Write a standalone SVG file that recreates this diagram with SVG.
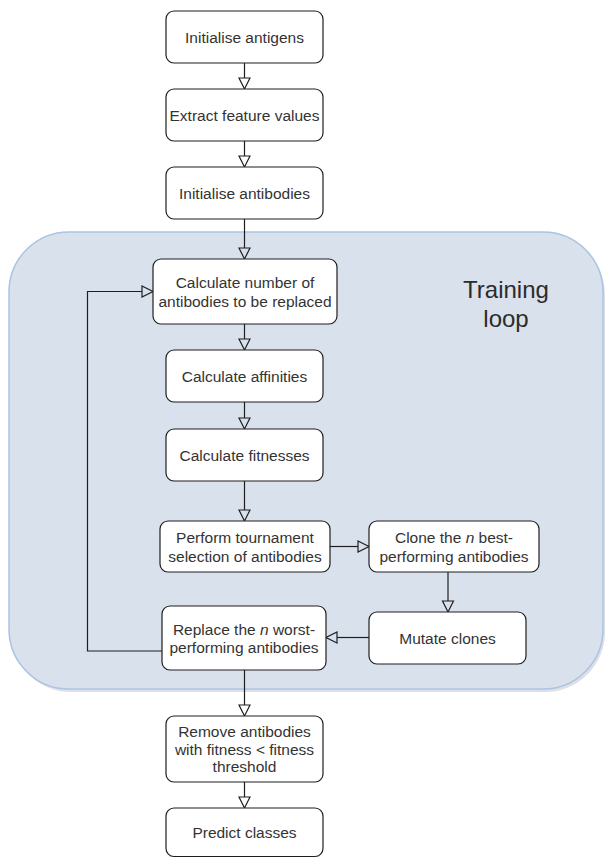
<svg xmlns="http://www.w3.org/2000/svg" width="605" height="858" viewBox="0 0 605 858">
  <style>
    .box { fill: #ffffff; stroke: #1e1e1e; stroke-width: 1.2; }
    .lbl { font-family: "Liberation Sans", Arial, sans-serif; font-size: 15.5px; fill: #333333; text-anchor: middle; }
    .title { font-family: "Liberation Sans", Arial, sans-serif; font-size: 24px; fill: #2b2b2b; text-anchor: middle; }
    .edge { fill: none; stroke: #1e1e1e; stroke-width: 1.2; marker-end: url(#openBlock); }
  </style>
  <defs>
    <marker id="openBlock" markerUnits="userSpaceOnUse" markerWidth="14" markerHeight="14" viewBox="-1 -1 14 14" refX="0" refY="5.5" orient="auto">
      <path d="M0,0 L11,5.5 L0,11 Z" fill="none" stroke="#1e1e1e" stroke-width="1.2"/>
    </marker>
  </defs>

  <!-- training loop container -->
  <g id="training-loop">
    <rect x="11" y="235" width="594" height="457" rx="60" fill="#c8ccd2" opacity="0.6"/>
    <rect x="9" y="232" width="594" height="457" rx="60" fill="#d9e1ec" stroke="#a9c3e5" stroke-width="1.5"/>
    <text class="title" x="506" y="298">Training</text>
    <text class="title" x="506" y="327">loop</text>
  </g>

  <!-- connectors -->
  <g id="connectors">
    <path class="edge" d="M244.5,63 V78"/>
    <path class="edge" d="M244.5,141 V156"/>
    <path class="edge" d="M244.5,219 V248"/>
    <path class="edge" d="M244.5,324 V339"/>
    <path class="edge" d="M244.5,402 V418"/>
    <path class="edge" d="M244.5,481 V510"/>
    <path class="edge" d="M330,546.5 H358"/>
    <path class="edge" d="M448,572 V601"/>
    <path class="edge" d="M369,637.5 H337"/>
    <path class="edge" d="M162,651 H87.5 V291.5 H142"/>
    <path class="edge" d="M244.5,670 V705"/>
    <path class="edge" d="M244.5,782 V797"/>
  </g>

  <g id="n1">
    <rect class="box" x="166" y="11" width="157" height="52" rx="8"/>
    <text class="lbl" x="244.5" y="42.5">Initialise antigens</text>
  </g>
  <g id="n2">
    <rect class="box" x="166" y="89" width="157" height="52" rx="8"/>
    <text class="lbl" x="244.5" y="120.5">Extract feature values</text>
  </g>
  <g id="n3">
    <rect class="box" x="166" y="167" width="157" height="52" rx="8"/>
    <text class="lbl" x="244.5" y="198.5">Initialise antibodies</text>
  </g>
  <g id="n4">
    <rect class="box" x="153" y="259" width="184" height="65" rx="8"/>
    <text class="lbl" x="245" y="288">Calculate number of</text>
    <text class="lbl" x="245" y="306.5">antibodies to be replaced</text>
  </g>
  <g id="n5">
    <rect class="box" x="166" y="350" width="157" height="52" rx="8"/>
    <text class="lbl" x="244.5" y="381.5">Calculate affinities</text>
  </g>
  <g id="n6">
    <rect class="box" x="166" y="429" width="157" height="52" rx="8"/>
    <text class="lbl" x="244.5" y="460.5">Calculate fitnesses</text>
  </g>
  <g id="n7">
    <rect class="box" x="160" y="521" width="170" height="51" rx="8"/>
    <text class="lbl" x="245" y="543.3">Perform tournament</text>
    <text class="lbl" x="245" y="561.7">selection of antibodies</text>
  </g>
  <g id="n8">
    <rect class="box" x="369" y="521" width="170" height="51" rx="8"/>
    <text class="lbl" x="454" y="543.3">Clone the <tspan font-style="italic">n</tspan> best-</text>
    <text class="lbl" x="454" y="561.7">performing antibodies</text>
  </g>
  <g id="n9">
    <rect class="box" x="369" y="612" width="157" height="52" rx="8"/>
    <text class="lbl" x="447.5" y="643.5">Mutate clones</text>
  </g>
  <g id="n10">
    <rect class="box" x="162" y="606" width="164" height="64" rx="8"/>
    <text class="lbl" x="244" y="634.5">Replace the <tspan font-style="italic">n</tspan> worst-</text>
    <text class="lbl" x="244" y="653">performing antibodies</text>
  </g>
  <g id="n11">
    <rect class="box" x="166" y="716" width="157" height="66" rx="8"/>
    <text class="lbl" x="244.5" y="736.7">Remove antibodies</text>
    <text class="lbl" x="244.5" y="754.5">with fitness &lt; fitness</text>
    <text class="lbl" x="244.5" y="772.3">threshold</text>
  </g>
  <g id="n12">
    <rect class="box" x="166" y="808" width="157" height="48.5" rx="8"/>
    <text class="lbl" x="244.5" y="838">Predict classes</text>
  </g>
</svg>
